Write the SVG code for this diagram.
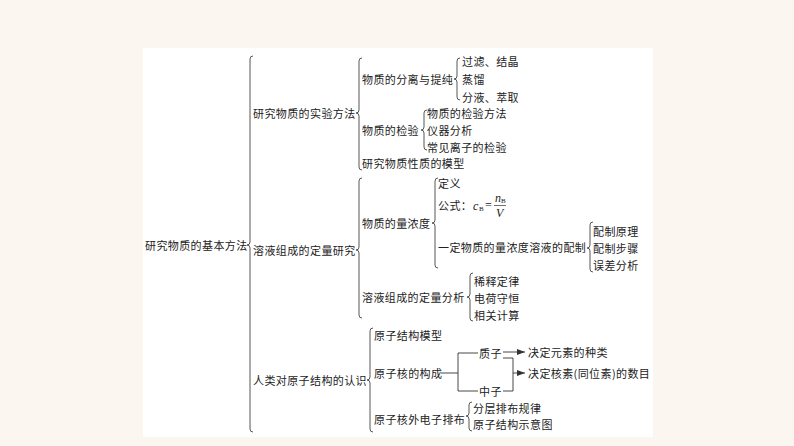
<svg xmlns="http://www.w3.org/2000/svg" width="794" height="446" viewBox="0 0 794 446">
<style>
text{font-family:"Noto Sans CJK SC","Noto Sans",sans-serif;font-size:11px;fill:#222;dominant-baseline:central;letter-spacing:0.4px}
.br{fill:none;stroke:#444;stroke-width:0.9}
.ln{fill:none;stroke:#333;stroke-width:0.9}
.m{font-family:"Liberation Serif",serif;font-style:italic;font-size:12px;letter-spacing:0}
.s{font-family:"Liberation Serif",serif;font-size:7px;letter-spacing:0}
.eq{font-family:"Liberation Serif",serif;font-size:12px;letter-spacing:0}
</style>
<defs>
<marker id="ah" viewBox="0 0 8 6" refX="8" refY="3" markerWidth="8" markerHeight="6" markerUnits="userSpaceOnUse" orient="auto">
<path d="M0,0 L8,3 L0,6 Z" fill="#333"/>
</marker>
</defs>
<rect x="0" y="0" width="794" height="446" fill="#fbf6ef"/>
<rect x="143" y="48" width="510" height="389" fill="#ffffff"/>

<g id="braces">
<path class="br" d="M253,56 Q250,56 250,59 L250,242 Q250,245 247,245 Q250,245 250,248 L250,429 Q250,432 253,432"/>
<path class="br" d="M362,58 Q359,58 359,61 L359,110 Q359,113 356,113 Q359,113 359,116 L359,167 Q359,170 362,170"/>
<path class="br" d="M460,58 Q457,58 457,61 L457,76 Q457,79 454,79 Q457,79 457,82 L457,97 Q457,100 460,100"/>
<path class="br" d="M427,110 Q424,110 424,113 L424,127 Q424,130 421,130 Q424,130 424,133 L424,147 Q424,150 427,150"/>
<path class="br" d="M362,178 Q359,178 359,181 L359,247 Q359,250 356,250 Q359,250 359,253 L359,315 Q359,318 362,318"/>
<path class="br" d="M438,178 Q435,178 435,181 L435,220 Q435,223 432,223 Q435,223 435,226 L435,265 Q435,268 438,268"/>
<path class="br" d="M593,222 Q590,222 590,225 L590,245 Q590,248 587,248 Q590,248 590,251 L590,269 Q590,272 593,272"/>
<path class="br" d="M473,273 Q470,273 470,276 L470,294 Q470,297 467,297 Q470,297 470,300 L470,318 Q470,321 473,321"/>
<path class="br" d="M373,328 Q370,328 370,331 L370,377 Q370,380 367,380 Q370,380 370,383 L370,429 Q370,432 373,432"/>
<path class="br" d="M472,402 Q469,402 469,405 L469,413 Q469,416 466,416 Q469,416 469,419 L469,428 Q469,431 472,431"/>
</g>

<g id="connectors">
<path class="ln" d="M441,373 H458 M458,353 V391 M458,353 H478 M458,391 H478"/>
<path class="ln" d="M503,352 H525" marker-end="url(#ah)"/>
<path class="ln" d="M503,358 H513 V391 H503"/>
<path class="ln" d="M513,373 H525" marker-end="url(#ah)"/>
</g>

<g id="n-root"><text x="145" y="245">研究物质的基本方法</text></g>

<g id="n-exp"><text x="253" y="113">研究物质的实验方法</text></g>
<g id="n-sep"><text x="362" y="79">物质的分离与提纯</text></g>
<g id="n-sep1"><text x="462" y="61">过滤、结晶</text></g>
<g id="n-sep2"><text x="462" y="79">蒸馏</text></g>
<g id="n-sep3"><text x="462" y="97">分液、萃取</text></g>
<g id="n-test"><text x="362" y="130">物质的检验</text></g>
<g id="n-test1"><text x="427" y="113">物质的检验方法</text></g>
<g id="n-test2"><text x="427" y="130">仪器分析</text></g>
<g id="n-test3"><text x="427" y="147">常见离子的检验</text></g>
<g id="n-model"><text x="362" y="163">研究物质性质的模型</text></g>

<g id="n-sol"><text x="253" y="250">溶液组成的定量研究</text></g>
<g id="n-conc"><text x="362" y="223">物质的量浓度</text></g>
<g id="n-def"><text x="438" y="183">定义</text></g>
<g id="n-formula">
<text x="438" y="205">公式：</text>
<text class="m" x="473" y="206">c</text>
<text class="s" x="479" y="209">B</text>
<text class="eq" x="485" y="205">=</text>
<text class="m" x="495" y="198">n</text>
<text class="s" x="501" y="201">B</text>
<line x1="494" y1="205.5" x2="506" y2="205.5" stroke="#333" stroke-width="0.7"/>
<text class="m" x="496" y="213">V</text>
</g>
<g id="n-prep"><text x="438" y="247">一定物质的量浓度溶液的配制</text></g>
<g id="n-prep1"><text x="593" y="231">配制原理</text></g>
<g id="n-prep2"><text x="593" y="248">配制步骤</text></g>
<g id="n-prep3"><text x="593" y="265">误差分析</text></g>
<g id="n-ana"><text x="362" y="297">溶液组成的定量分析</text></g>
<g id="n-ana1"><text x="474" y="281">稀释定律</text></g>
<g id="n-ana2"><text x="474" y="298">电荷守恒</text></g>
<g id="n-ana3"><text x="474" y="315">相关计算</text></g>

<g id="n-atom"><text x="253" y="380">人类对原子结构的认识</text></g>
<g id="n-atom1"><text x="374" y="335">原子结构模型</text></g>
<g id="n-nuc"><text x="374" y="373">原子核的构成</text></g>
<g id="n-proton"><text x="479" y="353">质子</text></g>
<g id="n-neutron"><text x="479" y="391">中子</text></g>
<g id="n-elem"><text x="528" y="352">决定元素的种类</text></g>
<g id="n-nuclide"><text x="528" y="373">决定核素(同位素)的数目</text></g>
<g id="n-elec"><text x="374" y="419">原子核外电子排布</text></g>
<g id="n-elec1"><text x="473" y="408">分层排布规律</text></g>
<g id="n-elec2"><text x="473" y="424">原子结构示意图</text></g>
</svg>
